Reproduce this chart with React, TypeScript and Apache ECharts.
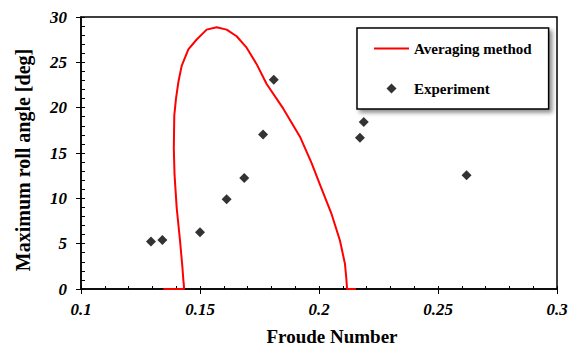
import React, { useEffect, useRef } from "react";
import * as echarts from "echarts";

const curveX = [0.1346, 0.1433, 0.1432, 0.143, 0.1426, 0.1416, 0.1402, 0.1393, 0.139, 0.1391, 0.1392, 0.1399, 0.1409, 0.1423, 0.1451, 0.1486, 0.1528, 0.157, 0.1612, 0.1654, 0.1696, 0.1738, 0.178, 0.185, 0.192, 0.1969, 0.2004, 0.2053, 0.2088, 0.2109, 0.2115, 0.2118, 0.2155];
const curveY = [0, 0, 0.5, 0.98, 2.43, 5.35, 8.98, 12.61, 15.5, 17.34, 19.16, 20.98, 22.8, 24.61, 26.43, 27.52, 28.61, 28.86, 28.61, 27.88, 26.62, 24.8, 22.61, 19.89, 16.8, 13.89, 11.52, 8.25, 5.35, 2.79, 1.1, 0, 0];

const expX = [0.1294, 0.1342, 0.15, 0.1612, 0.1686, 0.1765, 0.181, 0.2188, 0.2172, 0.262];
const expY = [5.24, 5.41, 6.25, 9.89, 12.25, 17.05, 23.08, 18.43, 16.69, 12.54];

const xTicks = ["0.1", "0.15", "0.2", "0.25", "0.3"];

const serif = "Liberation Serif";

export default function App() {
  const ref = useRef<HTMLDivElement>(null);
  useEffect(() => {
    if (!ref.current) return;
    const chart = echarts.init(ref.current, undefined, { renderer: "svg" });
    const labelStyle = {
      fontFamily: serif,
      fontWeight: "bold" as const,
      fontStyle: "italic" as const,
      fontSize: 17,
      color: "#000",
    };
    chart.setOption({
      animation: false,
      backgroundColor: "#fff",
      grid: {
        left: 81,
        right: 17,
        top: 17,
        bottom: 59,
        show: true,
        borderColor: "#000",
        borderWidth: 1.5,
        backgroundColor: "transparent",
      },
      legend: {
        orient: "vertical",
        left: 357,
        top: 28,
        padding: [13, 17, 13, 16],
        itemGap: 25,
        itemWidth: 35,
        itemHeight: 10,
        symbolKeepAspect: true,
        backgroundColor: "#fff",
        borderColor: "#000",
        borderWidth: 1.5,
        borderRadius: 0,
        shadowColor: "rgba(0,0,0,0.45)",
        shadowBlur: 4,
        shadowOffsetX: 3,
        shadowOffsetY: 3,
        textStyle: {
          fontFamily: serif,
          fontWeight: "bold",
          fontSize: 15,
          color: "#000",
        },
        data: [
          { name: "Averaging method", itemStyle: { opacity: 0 } },
          { name: "Experiment", icon: "path://M5,0 L10,5 L5,10 L0,5 Z" },
        ],
      },
      xAxis: [
        {
          type: "value",
          min: 0.1,
          max: 0.3,
          interval: 0.05,
          position: "bottom",
          name: "Froude Number",
          nameLocation: "middle",
          nameGap: 38,
          nameTextStyle: {
            fontFamily: serif,
            fontWeight: "bold",
            fontSize: 19,
            color: "#000",
            padding: [0, 0, 0, 26],
          },
          axisLine: { show: true, lineStyle: { color: "#000", width: 1.5 } },
          axisTick: { show: true, inside: false, length: 5, lineStyle: { color: "#000", width: 1 } },
          axisLabel: {
            ...labelStyle,
            margin: 12,
            formatter: (v: number) => {
              const i = Math.round((v - 0.1) / 0.05);
              return xTicks[i] ?? "";
            },
          },
          splitLine: { show: false },
        },
        {
          type: "value",
          min: 0.1,
          max: 0.3,
          interval: 0.01,
          position: "bottom",
          offset: 0,
          axisLine: { show: false },
          axisTick: { show: true, inside: true, length: 3, lineStyle: { color: "#000", width: 1 } },
          axisLabel: { show: false },
          splitLine: { show: false },
        },
      ],
      yAxis: [
        {
          type: "value",
          min: 0,
          max: 30,
          interval: 5,
          position: "left",
          name: "Maximum roll angle [deg]",
          nameLocation: "middle",
          nameGap: 48,
          nameTextStyle: {
            fontFamily: serif,
            fontWeight: "bold",
            fontSize: 20,
            color: "#000",
            padding: [0, 14, 0, 0],
          },
          axisLine: { show: true, lineStyle: { color: "#000", width: 1.5 } },
          axisTick: { show: true, inside: false, length: 5, lineStyle: { color: "#000", width: 1 } },
          axisLabel: { ...labelStyle, margin: 14 },
          splitLine: { show: false },
        },
        {
          type: "value",
          min: 0,
          max: 30,
          interval: 1,
          position: "left",
          offset: 0,
          axisLine: { show: false },
          axisTick: { show: true, inside: true, length: 4, lineStyle: { color: "#000", width: 1 } },
          axisLabel: { show: false },
          splitLine: { show: false },
        },
      ],
      series: [
        {
          name: "Averaging method",
          type: "line",
          xAxisIndex: 0,
          yAxisIndex: 0,
          data: curveX.map((x, i) => [x, curveY[i]]),
          showSymbol: false,
          symbol: "none",
          smooth: false,
          lineStyle: { color: "#ff0000", width: 2, join: "round" },
          itemStyle: { color: "#ff0000" },
          z: 2,
        },
        {
          name: "Experiment",
          type: "scatter",
          xAxisIndex: 0,
          yAxisIndex: 0,
          data: expX.map((x, i) => [x, expY[i]]),
          symbol: "diamond",
          symbolSize: 10,
          itemStyle: { color: "#000" },
          z: 3,
        },
      ],
    });
    return () => chart.dispose();
  }, []);
  return (
    <div
      ref={ref}
      style={{ position: "fixed", left: 0, top: 0, width: 574, height: 351 }}
    />
  );
}
